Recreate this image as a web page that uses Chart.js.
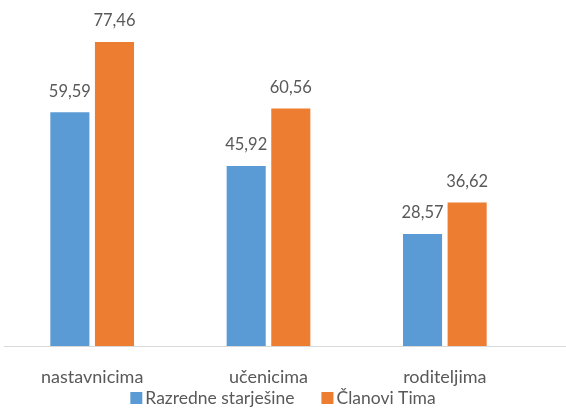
<!DOCTYPE html>
<html>
<head>
<meta charset="utf-8">
<script src="https://cdn.jsdelivr.net/npm/chart.js@4"></script>
<style>
  html, body { margin: 0; padding: 0; background: #fff; }
  #wrap { width: 566px; height: 408px; }
</style>
</head>
<body>
<div id="wrap"><canvas id="chart"></canvas></div>
<script>
var categories = ["nastavnicima", "učenicima", "roditeljima"];
var razredneStarjesine = [59.59, 45.92, 28.57];
var clanoviTima = [77.46, 60.56, 36.62];
var seriesNames = ["Razredne starješine", "Članovi Tima"];
var seriesColors = ["#5b9bd5", "#ed7d31"];

var FONT = "Lato, 'Open Sans', sans-serif";
var TEXT = "#595959";

// prints each bar's value above it, with a decimal comma
var valueLabels = {
    id: 'valueLabels',
    afterDatasetsDraw: function (chart) {
        var ctx = chart.ctx;
        ctx.save();
        ctx.font = "16.5px " + FONT;
        ctx.fillStyle = TEXT;
        ctx.textAlign = "center";
        ctx.textBaseline = "middle";
        chart.data.datasets.forEach(function (ds, i) {
            chart.getDatasetMeta(i).data.forEach(function (bar, j) {
                ctx.fillText(ds.data[j].toFixed(2).replace(".", ","), bar.x, bar.y - 21);
            });
        });
        ctx.restore();
    }
};

// axis line runs on past the plot to the right edge
var axisLine = {
    id: 'axisLine',
    afterDraw: function (chart) {
        var ctx = chart.ctx, a = chart.chartArea;
        ctx.save();
        ctx.strokeStyle = "#d9d9d9";
        ctx.lineWidth = 1;
        ctx.beginPath();
        ctx.moveTo(a.left, Math.round(a.bottom) + 0.5);
        ctx.lineTo(chart.width, Math.round(a.bottom) + 0.5);
        ctx.stroke();
        ctx.restore();
    }
};

// compact legend row under the category labels
var bottomLegend = {
    id: 'bottomLegend',
    afterDraw: function (chart) {
        var ctx = chart.ctx;
        var box = 12, gap = 3, itemGap = 27, y = 398;
        ctx.save();
        ctx.font = "17.5px " + FONT;
        ctx.textBaseline = "middle";
        ctx.textAlign = "left";
        var items = chart.data.datasets.map(function (ds) {
            return { text: ds.label, color: ds.backgroundColor, w: box + gap + ctx.measureText(ds.label).width };
        });
        var total = items.reduce(function (s, it) { return s + it.w; }, 0) + itemGap * (items.length - 1);
        var x = chart.width / 2 - total / 2;
        items.forEach(function (it) {
            ctx.fillStyle = it.color;
            ctx.fillRect(x, y - box / 2, box, box);
            ctx.fillStyle = TEXT;
            ctx.fillText(it.text, x + box + gap, y);
            x += it.w + itemGap;
        });
        ctx.restore();
    }
};

new Chart(document.getElementById("chart"), {
    type: 'bar',
    data: {
        labels: categories,
        datasets: [{
            label: seriesNames[0],
            data: razredneStarjesine,
            backgroundColor: seriesColors[0]
        }, {
            label: seriesNames[1],
            data: clanoviTima,
            backgroundColor: seriesColors[1]
        }]
    },
    options: {
        responsive: true,
        maintainAspectRatio: false,
        animation: false,
        categoryPercentage: 0.506,
        barPercentage: 0.876,
        layout: { padding: { left: 4, right: 33, top: 32, bottom: 8 } },
        scales: {
            x: {
                grid: { display: false },
                border: { display: false },
                ticks: { color: TEXT, font: { family: FONT, size: 18 }, padding: 12 }
            },
            y: { display: false, min: 0, max: 80 }
        },
        plugins: {
            legend: { display: false },
            tooltip: { enabled: false }
        }
    },
    plugins: [valueLabels, axisLine, bottomLegend]
});
</script>
</body>
</html>
